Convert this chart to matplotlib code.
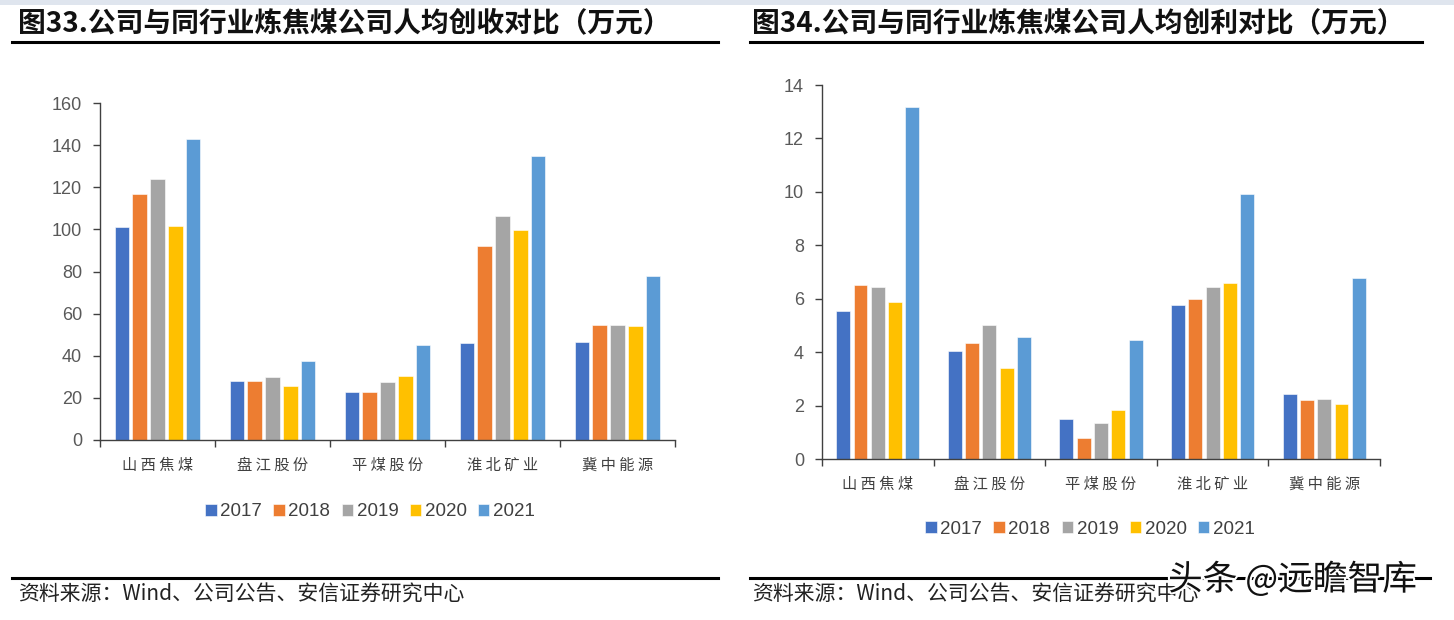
import matplotlib
matplotlib.use('Agg')
import matplotlib.pyplot as plt
import numpy as np
from matplotlib.patches import Rectangle
from matplotlib.lines import Line2D
import matplotlib.patheffects as pe

# ---------------- data ----------------
categories = ['山西焦煤', '盘江股份', '平煤股份', '淮北矿业', '冀中能源']
years = ['2017', '2018', '2019', '2020', '2021']

revenue_2017 = [101.2, 28.1, 22.9, 46.2, 46.7]
revenue_2018 = [116.8, 28.1, 22.6, 92.3, 54.8]
revenue_2019 = [123.7, 29.7, 27.3, 106.2, 54.6]
revenue_2020 = [101.8, 25.6, 30.2, 99.6, 54.1]
revenue_2021 = [143.1, 37.7, 45.3, 134.9, 77.8]

profit_2017 = [5.54, 4.06, 1.51, 5.77, 2.42]
profit_2018 = [6.53, 4.36, 0.80, 5.98, 2.22]
profit_2019 = [6.42, 5.00, 1.35, 6.42, 2.24]
profit_2020 = [5.89, 3.40, 1.85, 6.59, 2.05]
profit_2021 = [13.16, 4.56, 4.47, 9.92, 6.77]

revenue_ticks = [0, 20, 40, 60, 80, 100, 120, 140, 160]
profit_ticks = [0, 2, 4, 6, 8, 10, 12, 14]

title_left = '图33.公司与同行业炼焦煤公司人均创收对比（万元）'
title_right = '图34.公司与同行业炼焦煤公司人均创利对比（万元）'
source_text = '资料来源：Wind、公司公告、安信证券研究中心'
watermark = '头条 @远瞻智库'

colors = ['#4472C4', '#ED7D31', '#A5A5A5', '#FFC000', '#5B9BD5']

# ---------------- figure ----------------
W, H = 1454, 620
fig = plt.figure(figsize=(W / 100, H / 100), dpi=100)
fig.patch.set_facecolor('white')

CJK = ['Noto Sans CJK SC', 'DejaVu Sans']
NUM = ['Liberation Sans', 'DejaVu Sans']


def px_axes(x0, y0, x1, y1):
    return fig.add_axes([x0 / W, 1 - y1 / H, (x1 - x0) / W, (y1 - y0) / H])


def fig_line(x0, x1, y, lw=2.2):
    fig.add_artist(Line2D([x0 / W, x1 / W], [1 - y / H, 1 - y / H],
                          color='black', linewidth=lw, transform=fig.transFigure))


# top faint band
fig.add_artist(Rectangle((0, 1 - 5 / H), 1, 5 / H, transform=fig.transFigure,
                         facecolor='#dfe5ee', edgecolor='none'))


def draw_chart(ax, series, ticks, ymax):
    x = np.arange(len(categories)) + 0.5
    step, width = 0.155, 0.125
    for i, (vals, c) in enumerate(zip(series, colors)):
        ax.bar(x + (i - 2) * step, vals, width=width, color=c,
               edgecolor='white', linewidth=0.4, label=years[i], zorder=2)
    ax.set_xlim(0, len(categories))
    ax.set_ylim(0, ymax)
    ax.set_yticks(ticks)
    ax.set_yticklabels([str(t) for t in ticks], fontfamily=NUM,
                       fontsize=13, color='#595959')
    ax.set_xticks(x)
    ax.set_xticklabels([' '.join(c) for c in categories], fontfamily=CJK,
                       fontsize=11, color='#404040')
    ax.set_xticks(np.arange(len(categories) + 1), minor=True)
    ax.tick_params(axis='x', which='major', length=0, pad=12)
    ax.tick_params(axis='x', which='minor', length=5, width=1, color='#404040',
                   direction='out')
    ax.tick_params(axis='y', length=5, width=1, color='#404040',
                   direction='out', pad=8)
    for s in ['top', 'right']:
        ax.spines[s].set_visible(False)
    for s in ['left', 'bottom']:
        ax.spines[s].set_color('#404040')
        ax.spines[s].set_linewidth(1.0)
    ax.set_facecolor('none')


axL = px_axes(100, 103, 675, 440)
draw_chart(axL, [revenue_2017, revenue_2018, revenue_2019, revenue_2020, revenue_2021],
           revenue_ticks, 160)
axR = px_axes(822, 85, 1380, 459)
draw_chart(axR, [profit_2017, profit_2018, profit_2019, profit_2020, profit_2021],
           profit_ticks, 14)

# legends
for ax, cx, cy in [(axL, 370, 512), (axR, 1090, 529)]:
    h, l = ax.get_legend_handles_labels()
    fig.legend(h, l, loc='center', bbox_to_anchor=(cx / W, 1 - cy / H), ncol=5,
               frameon=False, handlelength=0.6, handleheight=0.6, handletextpad=0.2,
               columnspacing=0.6, prop={'family': NUM, 'size': 13.5},
               labelcolor='#404040')

# titles
fig.text(18 / W, 1 - 23 / H, title_left, fontfamily=CJK, fontsize=20,
         fontweight='bold', va='center', ha='left', color='#111111')
fig.text(752 / W, 1 - 23 / H, title_right, fontfamily=CJK, fontsize=20,
         fontweight='bold', va='center', ha='left', color='#111111')
fig_line(12, 718, 42)
fig_line(750, 1422, 42)

# footers
fig_line(12, 718, 578)
fig_line(750, 1430, 578)
fig.text(18 / W, 1 - 595 / H, source_text, fontfamily=CJK, fontsize=15,
         va='center', ha='left', color='#222222', style='italic')
fig.text(752 / W, 1 - 595 / H, source_text, fontfamily=CJK, fontsize=15,
         va='center', ha='left', color='#222222', style='italic')

# watermark
fig.text(1168 / W, 1 - 580 / H, watermark, fontfamily=CJK, fontsize=25,
         va='center', ha='left', color='#111111',
         path_effects=[pe.withStroke(linewidth=3, foreground='white')])

fig.savefig('out.png', dpi=100, facecolor='white')
